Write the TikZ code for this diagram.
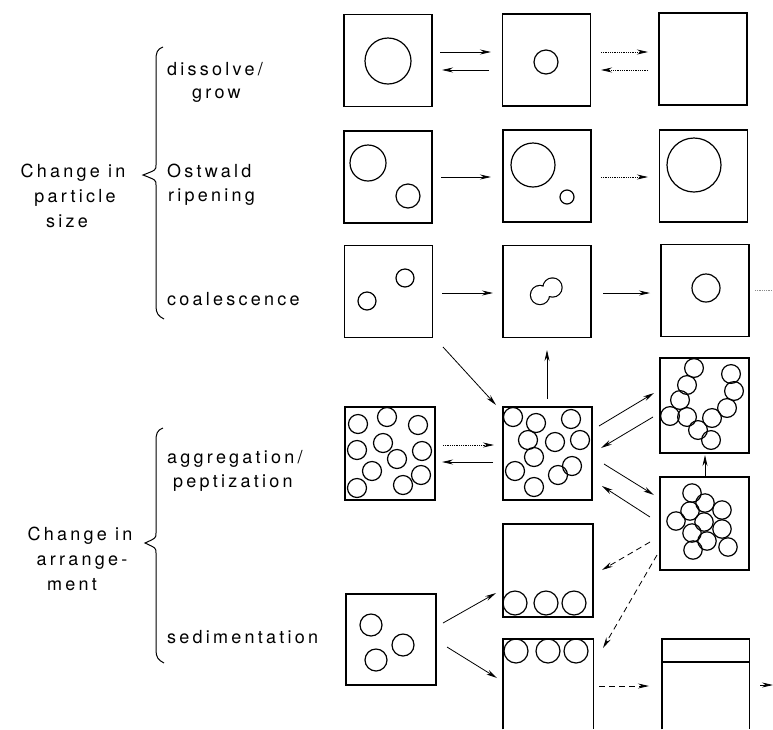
\documentclass[tikz,border=0pt]{standalone}
\usepackage{fontspec}
\setmainfont{TeX Gyre Heros}[LetterSpace=18]
\usetikzlibrary{arrows.meta}
\begin{document}
\begin{tikzpicture}[x=1pt,y=-1pt,
  box/.style={draw, line width=1.4pt, minimum width=88pt, minimum height=92pt, inner sep=0pt},
  edge/.style={line width=1.4pt},
  ptc/.style={line width=1.2pt},
  arr/.style={line width=0.8pt, -{Stealth[length=11pt,width=5pt]}},
  dotarr/.style={arr, densely dotted},
  dasharr/.style={arr, dash pattern=on 6pt off 4pt},
  lbl/.style={font=\fontsize{18}{25}\selectfont, inner sep=0pt},
  brc/.style={line width=1pt}]
\useasboundingbox (0,0) rectangle (773,729);

% ---------- labels ----------
\node[lbl, anchor=base west] (t1) at (167,75) {dissolve/};
\node[lbl, anchor=base west] (t1b) at (192,98) {grow};
\node[lbl, anchor=base west] (t2) at (167,177) {Ostwald};
\node[lbl, anchor=base west] (t2b) at (168,201) {ripening};
\node[lbl, anchor=base west] (t3) at (167,305) {coalescence};
\node[lbl, anchor=base] (g1a) at (73,177) {Change in};
\node[lbl, anchor=base] (g1b) at (75,202) {particle};
\node[lbl, anchor=base] (g1c) at (67,227) {size};
\node[lbl, anchor=base west] (t4) at (167,463) {aggregation/};
\node[lbl, anchor=base west] (t4b) at (173,487) {peptization};
\node[lbl, anchor=base west] (t5) at (167,643) {sedimentation};
\node[lbl, anchor=base] (g2a) at (80,540) {Change in};
\node[lbl, anchor=base] (g2b) at (82,565) {arrange-};
\node[lbl, anchor=base] (g2c) at (72,590) {ment};

% ---------- braces ----------
\draw[brc] (163,47) .. controls (157,49) and (156,53) .. (156,60) -- (156,165)
  .. controls (156,170) .. (143,175) .. controls (156,180) .. (156,185) -- (156,306)
  .. controls (156,313) and (158,316) .. (164,319);
\draw[brc] (163,428) .. controls (157,430) and (156,434) .. (156,441) -- (156,533)
  .. controls (156,538) .. (145,543) .. controls (156,548) .. (156,553) -- (156,650)
  .. controls (156,657) and (158,660) .. (164,663);

% ---------- boxes ----------
\node[box] (r1c1) at (388,60.5) {};
\node[box] (r1c2) at (546.5,60) {};
\node[box] (r1c3) at (703,59) {};
\node[box] (r2c1) at (388,177) {};
\node[box] (r2c2) at (547,176) {};
\node[box] (r2c3) at (703.5,176) {};
\node[box] (r3c1) at (388.5,291.5) {};
\node[box] (r3c2) at (547,291.5) {};
\node[box] (r3c3) at (705,290.5) {};
\node[box, minimum width=90pt, minimum height=93pt] (agg1) at (390,453.5) {};
\node[box, minimum width=89pt, minimum height=93pt] (agg2) at (547.5,453.5) {};
\node[box, minimum width=89pt, minimum height=95pt] (chain) at (704.5,405.5) {};
\node[box, minimum width=89pt, minimum height=93pt] (clust) at (704.5,523.5) {};
\node[box, minimum width=90pt, minimum height=91pt] (sed1) at (391,639.5) {};
\node[box, minimum width=90pt, minimum height=93pt] (sedb) at (548,570.5) {};
\node[minimum width=90pt, minimum height=90pt, inner sep=0pt, anchor=north west] (cream) at (503,639) {};
\draw[edge] (cream.south west) |- (cream.north east) -- (cream.south east);
\node[minimum width=87pt, minimum height=90pt, inner sep=0pt, anchor=north west] (final) at (662,639) {};
\draw[edge] (final.south west) |- (final.north east) -- (final.south east);
\coordinate (fl1) at (662,662);
\coordinate (fl2) at (749,662);
\draw[edge] (fl1) -- (fl2);

% ---------- particles ----------
\draw[ptc] (388,61) circle (23);
\draw[ptc] (546,62) circle (12);
\draw[ptc] (368,163) circle (18);
\draw[ptc] (408,196) circle (12);
\draw[ptc] (533,165) circle (22);
\draw[ptc] (567,197) circle (7);
\draw[ptc] (694,165) circle (27);
\draw[ptc] (367,301) circle (9);
\draw[ptc] (405,278) circle (9);
% doublet (outline of union)
\draw[line width=2.4pt] (540,295) circle (9) (552.5,287.5) circle (9);
\fill[white] (540,295) circle (9) (552.5,287.5) circle (9);
\draw[ptc] (706,288) circle (14);

\foreach \p in {(358,424),(387,417),(418,425),(357,450),(383,443),(422,451),(397,459),(372,471),(421,475),(357,488),(403,485)}
  \draw[ptc] \p circle (9.5);
\foreach \p in {(513,417),(536,423),(571,419),(528,440),(555,442),(580,440),(534,457),(515,471),(558,475),(572,466),(534,487)}
  \draw[ptc] \p circle (9.5);
\foreach \p in {(694,368),(687,385),(680,400),(670,416),(687,417),(698,430),(711,440),(712,418),(727,408),(734,391),(731,374)}
  \draw[ptc] \p circle (9.4);
\foreach \p in {(692,493),(705,503),(690,511),(722,510),(676,521),(704,522),(692,533),(722,529),(707,541),(693,550),(728,547)}
  \draw[ptc] \p circle (9.2);
\foreach \p in {(371,625),(403,645),(376,660)}
  \draw[ptc] \p circle (11);
\foreach \p in {(515,603),(546,603),(574,603)}
  \draw[ptc] \p circle (12);
\foreach \p in {(516,651),(548,651),(576,651)}
  \draw[ptc] \p circle (12);

% ---------- arrow end points ----------
\coordinate (a1s) at (440,52);  \coordinate (a1e) at (491,52);
\coordinate (a2s) at (489,70);  \coordinate (a2e) at (442,70);
\coordinate (a3s) at (601,52);  \coordinate (a3e) at (648,52);
\coordinate (a4s) at (648,70);  \coordinate (a4e) at (601,70);
\coordinate (b1s) at (441,177); \coordinate (b1e) at (491,177);
\coordinate (b2s) at (601,177); \coordinate (b2e) at (648,177);
\coordinate (c1s) at (442,293); \coordinate (c1e) at (493,293);
\coordinate (c2s) at (603,293); \coordinate (c2e) at (650,293);
\coordinate (c3s) at (755,290); \coordinate (c3e) at (773,290);
\coordinate (d1s) at (443,347); \coordinate (d1e) at (496,405);
\coordinate (d2s) at (547,399); \coordinate (d2e) at (547,350);
\coordinate (e1s) at (443,445); \coordinate (e1e) at (494,445);
\coordinate (e2s) at (493,462); \coordinate (e2e) at (442,462);
\coordinate (f1s) at (599,426); \coordinate (f1e) at (654,393);
\coordinate (f2s) at (653,417); \coordinate (f2e) at (601,448);
\coordinate (f3s) at (604,464); \coordinate (f3e) at (654,495);
\coordinate (f4s) at (650,517); \coordinate (f4e) at (602,486);
\coordinate (f5s) at (705,477); \coordinate (f5e) at (705,455);
\coordinate (g1s) at (443,623); \coordinate (g1e) at (496,593);
\coordinate (g2s) at (447,647); \coordinate (g2e) at (497,678);
\coordinate (h1s) at (650,542); \coordinate (h1e) at (602,570);
\coordinate (h2s) at (657,555); \coordinate (h2e) at (603,648);
\coordinate (h3s) at (599,686); \coordinate (h3e) at (649,686);
\coordinate (h4s) at (760,685); \coordinate (h4e) at (773,685);

% ---------- arrows ----------
\draw[arr] (a1s) -- (a1e);
\draw[arr] (a2s) -- (a2e);
\draw[dotarr] (a3s) -- (a3e);
\draw[dotarr] (a4s) -- (a4e);
\draw[arr] (b1s) -- (b1e);
\draw[dotarr] (b2s) -- (b2e);
\draw[arr] (c1s) -- (c1e);
\draw[arr] (c2s) -- (c2e);
\draw[line width=0.8pt, densely dotted, black!45] (c3s) -- (c3e);
\draw[arr] (d1s) -- (d1e);
\draw[arr] (d2s) -- (d2e);
\draw[dotarr] (e1s) -- (e1e);
\draw[arr] (e2s) -- (e2e);
\draw[arr] (f1s) -- (f1e);
\draw[arr] (f2s) -- (f2e);
\draw[arr] (f3s) -- (f3e);
\draw[arr] (f4s) -- (f4e);
\draw[arr] (f5s) -- (f5e);
\draw[arr] (g1s) -- (g1e);
\draw[arr] (g2s) -- (g2e);
\draw[dasharr] (h1s) -- (h1e);
\draw[dasharr] (h2s) -- (h2e);
\draw[dasharr] (h3s) -- (h3e);
\draw[arr] (h4s) -- (h4e);
\end{tikzpicture}
\end{document}
